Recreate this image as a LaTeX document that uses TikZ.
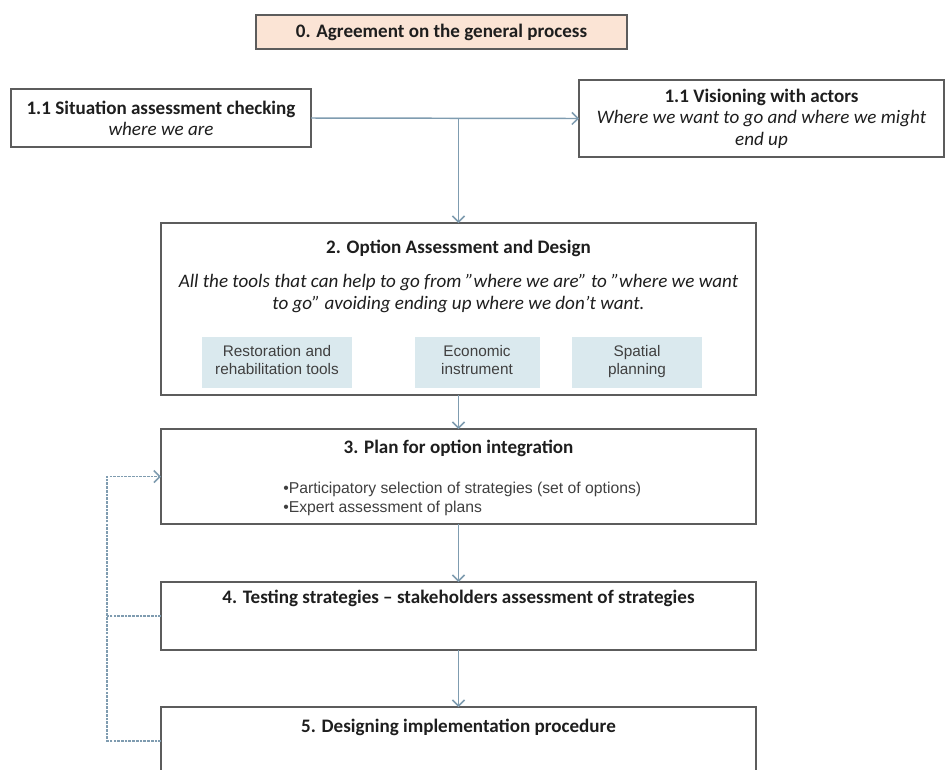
\documentclass[tikz,border=0pt]{standalone}
\usepackage{fontspec}
\setmainfont{Carlito}
\newfontfamily\arialf{Liberation Sans}
\usetikzlibrary{arrows.meta}
\definecolor{boxline}{HTML}{5C5C5C}
\definecolor{conn}{HTML}{7F9CB0}
\definecolor{peach}{HTML}{FBE4D5}
\definecolor{tool}{HTML}{DAE9EE}
\definecolor{ink}{HTML}{1E1E1E}
\begin{document}
\begin{tikzpicture}[x=0.75pt,y=-0.75pt,
  box/.style={draw=boxline, line width=1.3pt, fill=white, inner sep=0pt, outer sep=0pt},
  toolbox/.style={fill=tool, inner sep=0pt, minimum height=38.25pt, text=ink!85,
     font=\arialf\fontsize{11.5}{13.5}\selectfont, align=center},
  ttl/.style={text=ink, font=\bfseries\fontsize{14.3}{16}\selectfont, inner sep=0pt},
  itl/.style={text=ink, font=\itshape\fontsize{14.3}{16.5}\selectfont, inner sep=0pt, align=center},
  conn/.style={draw=conn, line width=1.1pt, -{Straight Barb[length=4.5pt,width=9pt]}},
  loopline/.style={draw=conn, line width=1.2pt, dash pattern=on 2pt off 0.8pt}
]
\useasboundingbox (0,0) rectangle (946,769);
\clip (0,0) rectangle (946,769);
\fill[white] (0,0) rectangle (946,769);

% boxes
\node[box, fill=peach, minimum width=278.25pt, minimum height=25.5pt] (b0) at (441.5,32) {};
\node[ttl] (t0) at (441.5,32) {0. Agreement on the general process};

\node[box, minimum width=225pt, minimum height=43.5pt, align=center, text=ink,
      font=\fontsize{14.3}{15.75}\selectfont] (s) at (161,118)
  {\textbf{1.1 Situation assessment checking}\\\textit{where we are}};

\node[box, minimum width=273.75pt, minimum height=57.75pt, align=center, text=ink,
      font=\fontsize{14.3}{16.1}\selectfont] (v) at (761.5,118.5)
  {\textbf{1.1 Visioning with actors}\\\textit{Where we want to go and where we might}\\\textit{end up}};

\node[box, minimum width=446.25pt, minimum height=129pt] (b2) at (458.5,309) {};
\node[ttl] (t2) at (458.5,248) {2. Option Assessment and Design};
\node[itl] (i2) at (458.5,294) {All the tools that can help to go from ''where we are'' to ''where we want\\to go'' avoiding ending up where we don't want.};
\node[toolbox, minimum width=112.5pt] (ta) at (277,362) {\strut Restoration and\\\strut rehabilitation tools};
\node[toolbox, minimum width=93.75pt] (tb) at (477,362) {\strut Economic\\\strut instrument};
\node[toolbox, minimum width=97.5pt] (tc) at (637,362) {\strut Spatial\\\strut planning};

\node[box, minimum width=446.25pt, minimum height=71.25pt] (b3) at (458.5,476.5) {};
\node[ttl] (t3) at (458.5,448) {3. Plan for option integration};
\node[anchor=west, align=left, inner sep=0pt, text=ink!85,
      font=\arialf\fontsize{11.8}{14.25}\selectfont] (l3) at (283,498.5)
  {•Participatory selection of strategies (set of options)\\•Expert assessment of plans};

\node[box, minimum width=446.25pt, minimum height=51pt] (b4) at (458.5,616) {};
\node[ttl] (t4) at (458.5,598) {4. Testing strategies -- stakeholders assessment of strategies};

\node[box, minimum width=446.25pt, minimum height=51pt] (b5) at (458.5,741) {};
\node[ttl] (t5) at (458.5,727) {5. Designing implementation procedure};

% connectors
\coordinate (j) at (b2.north |- s.east);
\draw[conn] (s.east) -- (v.west);
\draw[conn] (j) -- (b2.north);
\draw[conn] (b2.south) -- (b3.north);
\draw[conn] (b3.south) -- (b4.north);
\draw[conn] (b4.south) -- (b5.north);

% feedback loop
\coordinate (lp) at (107,741);
\draw[loopline] (b4.west) -- (lp |- b4.west);
\draw[loopline, -{Straight Barb[length=4.5pt,width=9pt]}] (b5.west) -- (lp) |- (b3.west);
\end{tikzpicture}
\end{document}
